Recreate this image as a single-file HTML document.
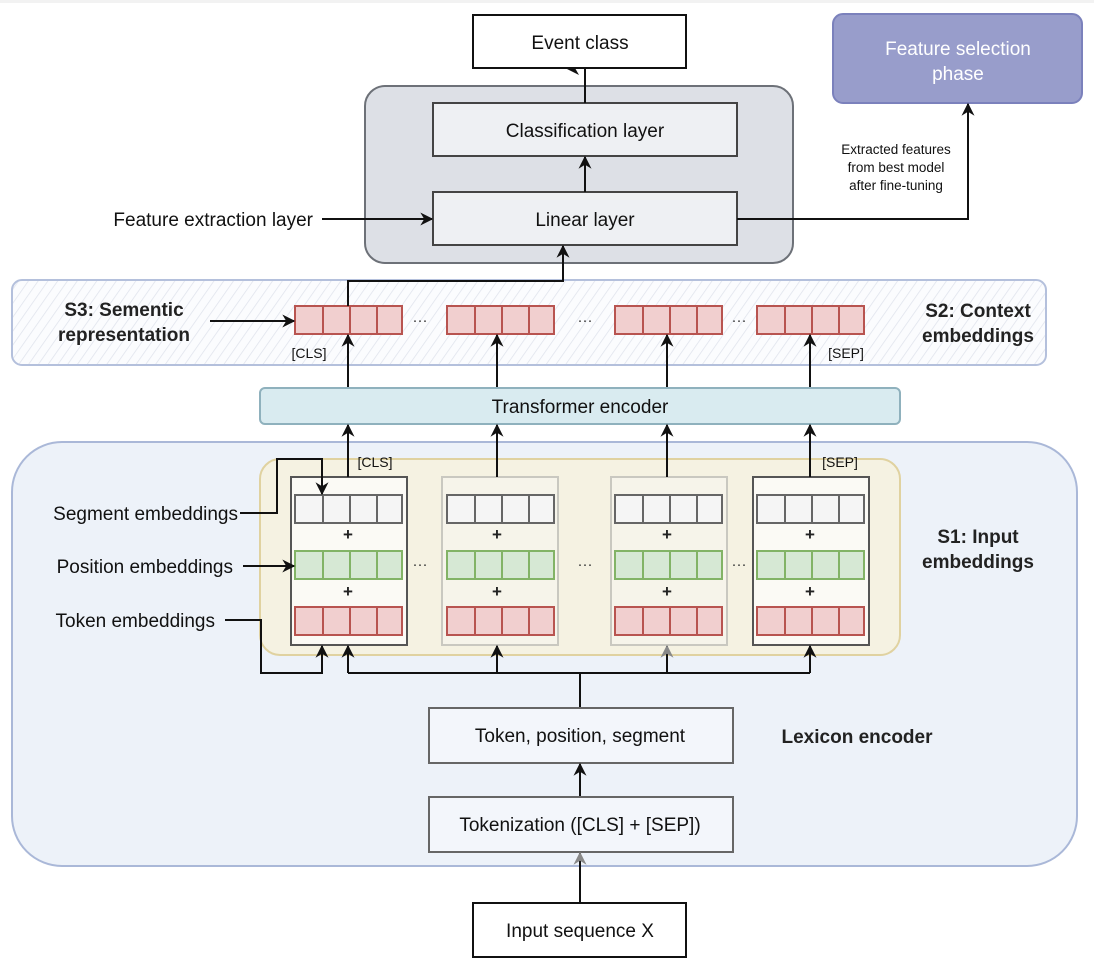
<!DOCTYPE html>
<html><head><meta charset="utf-8"><style>
html,body{margin:0;padding:0;background:#fff}
svg{display:block}
text{font-family:"Liberation Sans",sans-serif}
</style></head><body>
<svg width="1094" height="962" viewBox="0 0 1094 962" xmlns="http://www.w3.org/2000/svg">
<defs>
<marker id="a" viewBox="0 0 10 10" refX="9" refY="5" markerWidth="15" markerHeight="13" orient="auto" markerUnits="userSpaceOnUse"><path d="M0,0 L10,5 L0,10 L3,5 z" fill="#111"/></marker>
<marker id="g" viewBox="0 0 10 10" refX="9" refY="5" markerWidth="15" markerHeight="13" orient="auto" markerUnits="userSpaceOnUse"><path d="M0,0 L10,5 L0,10 L3,5 z" fill="#888"/></marker>
<pattern id="h" width="8" height="8" patternUnits="userSpaceOnUse" patternTransform="rotate(35)"><rect width="8" height="8" fill="#fbfcfe"/><line x1="0" y1="0" x2="0" y2="8" stroke="#dfe3ec" stroke-width="1.5"/></pattern>
<g id="v4r"><rect x="0" y="0" width="107" height="28" fill="#f1cfcf" stroke="#b85450" stroke-width="2"/><line x1="28" y1="0" x2="28" y2="28" stroke="#b85450" stroke-width="2"/><line x1="55" y1="0" x2="55" y2="28" stroke="#b85450" stroke-width="2"/><line x1="82" y1="0" x2="82" y2="28" stroke="#b85450" stroke-width="2"/></g>
<g id="v4g"><rect x="0" y="0" width="107" height="28" fill="#d6e8d4" stroke="#82b366" stroke-width="2"/><line x1="28" y1="0" x2="28" y2="28" stroke="#82b366" stroke-width="2"/><line x1="55" y1="0" x2="55" y2="28" stroke="#82b366" stroke-width="2"/><line x1="82" y1="0" x2="82" y2="28" stroke="#82b366" stroke-width="2"/></g>
<g id="v4w"><rect x="0" y="0" width="107" height="28" fill="#f5f5f5" stroke="#666" stroke-width="2"/><line x1="28" y1="0" x2="28" y2="28" stroke="#666" stroke-width="2"/><line x1="55" y1="0" x2="55" y2="28" stroke="#666" stroke-width="2"/><line x1="82" y1="0" x2="82" y2="28" stroke="#666" stroke-width="2"/></g>
</defs>
<rect x="0" y="0" width="1094" height="3" fill="#f2f2f2"/>

<rect x="473" y="15" width="213" height="53" fill="#fff" stroke="#111" stroke-width="2"/>
<text x="580" y="49" font-size="19" text-anchor="middle" fill="#111">Event class</text>
<rect x="833" y="14" width="249" height="89" rx="10" fill="#989dcb" stroke="#7b81bc" stroke-width="2"/>
<text x="958" y="55" font-size="19" text-anchor="middle" fill="#fff">Feature selection</text>
<text x="958" y="80" font-size="19" text-anchor="middle" fill="#fff">phase</text>

<rect x="365" y="86" width="428" height="177" rx="20" fill="#dde0e6" stroke="#6d7178" stroke-width="2"/>
<rect x="433" y="103" width="304" height="53" fill="#eef0f3" stroke="#444" stroke-width="2"/>
<text x="585" y="137" font-size="19" text-anchor="middle" fill="#111">Classification layer</text>
<rect x="433" y="192" width="304" height="53" fill="#eef0f3" stroke="#444" stroke-width="2"/>
<text x="585" y="226" font-size="19" text-anchor="middle" fill="#111">Linear layer</text>
<line x1="585" y1="103" x2="585" y2="69" stroke="#111" stroke-width="2"/>
<path d="M565,68 L579,75 L575,68 z" fill="#111"/>
<line x1="585" y1="192" x2="585" y2="157" stroke="#111" stroke-width="2" marker-end="url(#a)"/>
<text x="313" y="226" font-size="19" text-anchor="end" fill="#111">Feature extraction layer</text>
<line x1="322" y1="219" x2="432" y2="219" stroke="#111" stroke-width="2" marker-end="url(#a)"/>
<polyline points="737,219 968,219 968,104" fill="none" stroke="#111" stroke-width="2" marker-end="url(#a)"/>
<text x="896" y="154" font-size="13.5" text-anchor="middle" fill="#111">Extracted features</text>
<text x="896" y="172" font-size="13.5" text-anchor="middle" fill="#111">from best model</text>
<text x="896" y="190" font-size="13.5" text-anchor="middle" fill="#111">after fine-tuning</text>

<rect x="12" y="280" width="1034" height="85" rx="10" fill="url(#h)" stroke="#b4c0dc" stroke-width="2"/>
<use href="#v4r" x="295" y="306"/><use href="#v4r" x="447" y="306"/><use href="#v4r" x="615" y="306"/><use href="#v4r" x="757" y="306"/>
<text x="420" y="325" font-size="15" text-anchor="middle" fill="#333">···</text>
<text x="585" y="325" font-size="15" text-anchor="middle" fill="#333">···</text>
<text x="739" y="325" font-size="15" text-anchor="middle" fill="#333">···</text>
<text x="309" y="358" font-size="14" text-anchor="middle" fill="#111">[CLS]</text>
<text x="846" y="358" font-size="14" text-anchor="middle" fill="#111">[SEP]</text>
<text x="124" y="316" font-size="19" font-weight="bold" text-anchor="middle" fill="#222">S3: Sementic</text>
<text x="124" y="341" font-size="19" font-weight="bold" text-anchor="middle" fill="#222">representation</text>
<line x1="210" y1="321" x2="294" y2="321" stroke="#111" stroke-width="2" marker-end="url(#a)"/>
<text x="978" y="317" font-size="19" font-weight="bold" text-anchor="middle" fill="#222">S2: Context</text>
<text x="978" y="342" font-size="19" font-weight="bold" text-anchor="middle" fill="#222">embeddings</text>
<polyline points="348,306 348,281 563,281 563,246" fill="none" stroke="#111" stroke-width="2" marker-end="url(#a)"/>

<line x1="348" y1="388" x2="348" y2="335" stroke="#111" stroke-width="2" marker-end="url(#a)"/>
<line x1="497" y1="388" x2="497" y2="335" stroke="#111" stroke-width="2" marker-end="url(#a)"/>
<line x1="667" y1="388" x2="667" y2="335" stroke="#111" stroke-width="2" marker-end="url(#a)"/>
<line x1="810" y1="388" x2="810" y2="335" stroke="#111" stroke-width="2" marker-end="url(#a)"/>
<rect x="260" y="388" width="640" height="36" rx="5" fill="#d9ebf0" stroke="#8fb1bd" stroke-width="2"/>
<text x="580" y="413" font-size="19" text-anchor="middle" fill="#111">Transformer encoder</text>

<rect x="12" y="442" width="1065" height="424" rx="50" fill="#edf2f9" stroke="#aab8d8" stroke-width="2"/>
<rect x="260" y="459" width="640" height="196" rx="20" fill="#f5f2e2" stroke="#e0d2a0" stroke-width="2"/>
<rect x="291" y="477" width="116" height="168" fill="#fbfaf5" stroke="#555" stroke-width="2"/>
<rect x="442" y="477" width="116" height="168" fill="#f6f4ea" stroke="#c9c8c0" stroke-width="2"/>
<rect x="611" y="477" width="116" height="168" fill="#f6f4ea" stroke="#c9c8c0" stroke-width="2"/>
<rect x="753" y="477" width="116" height="168" fill="#fbfaf5" stroke="#555" stroke-width="2"/>
<use href="#v4w" x="295" y="495"/><use href="#v4w" x="447" y="495"/><use href="#v4w" x="615" y="495"/><use href="#v4w" x="757" y="495"/>
<use href="#v4g" x="295" y="551"/><use href="#v4g" x="447" y="551"/><use href="#v4g" x="615" y="551"/><use href="#v4g" x="757" y="551"/>
<use href="#v4r" x="295" y="607"/><use href="#v4r" x="447" y="607"/><use href="#v4r" x="615" y="607"/><use href="#v4r" x="757" y="607"/>
<g font-size="17" font-weight="bold" text-anchor="middle" fill="#222">
<text x="348" y="540">+</text><text x="497" y="540">+</text><text x="667" y="540">+</text><text x="810" y="540">+</text>
<text x="348" y="597">+</text><text x="497" y="597">+</text><text x="667" y="597">+</text><text x="810" y="597">+</text>
</g>
<text x="420" y="569" font-size="15" text-anchor="middle" fill="#333">···</text>
<text x="585" y="569" font-size="15" text-anchor="middle" fill="#333">···</text>
<text x="739" y="569" font-size="15" text-anchor="middle" fill="#333">···</text>
<text x="375" y="467" font-size="14" text-anchor="middle" fill="#111">[CLS]</text>
<text x="840" y="467" font-size="14" text-anchor="middle" fill="#111">[SEP]</text>
<line x1="348" y1="477" x2="348" y2="425" stroke="#111" stroke-width="2" marker-end="url(#a)"/>
<line x1="497" y1="477" x2="497" y2="425" stroke="#111" stroke-width="2" marker-end="url(#a)"/>
<line x1="667" y1="477" x2="667" y2="425" stroke="#111" stroke-width="2" marker-end="url(#a)"/>
<line x1="810" y1="477" x2="810" y2="425" stroke="#111" stroke-width="2" marker-end="url(#a)"/>

<text x="238" y="520" font-size="19" text-anchor="end" fill="#111">Segment embeddings</text>
<polyline points="240,513 277,513 277,459 322,459 322,494" fill="none" stroke="#111" stroke-width="2" marker-end="url(#a)"/>
<text x="233" y="573" font-size="19" text-anchor="end" fill="#111">Position embeddings</text>
<line x1="243" y1="566" x2="294" y2="566" stroke="#111" stroke-width="2" marker-end="url(#a)"/>
<text x="215" y="627" font-size="19" text-anchor="end" fill="#111">Token embeddings</text>
<polyline points="225,620 261,620 261,673 322,673 322,646" fill="none" stroke="#111" stroke-width="2" marker-end="url(#a)"/>
<polyline points="348,673 810,673" fill="none" stroke="#111" stroke-width="2"/>
<line x1="348" y1="673" x2="348" y2="646" stroke="#111" stroke-width="2" marker-end="url(#a)"/>
<line x1="497" y1="673" x2="497" y2="646" stroke="#111" stroke-width="2" marker-end="url(#a)"/>
<line x1="667" y1="673" x2="667" y2="646" stroke="#111" stroke-width="2" marker-end="url(#g)"/>
<line x1="810" y1="673" x2="810" y2="646" stroke="#111" stroke-width="2" marker-end="url(#a)"/>
<line x1="580" y1="708" x2="580" y2="673" stroke="#111" stroke-width="2"/>

<text x="978" y="543" font-size="19" font-weight="bold" text-anchor="middle" fill="#222">S1: Input</text>
<text x="978" y="568" font-size="19" font-weight="bold" text-anchor="middle" fill="#222">embeddings</text>

<rect x="429" y="708" width="304" height="55" fill="#f3f6fb" stroke="#666" stroke-width="2"/>
<text x="580" y="742" font-size="19" text-anchor="middle" fill="#111">Token, position, segment</text>
<text x="857" y="743" font-size="19" font-weight="bold" text-anchor="middle" fill="#222">Lexicon encoder</text>
<line x1="580" y1="797" x2="580" y2="764" stroke="#111" stroke-width="2" marker-end="url(#a)"/>
<rect x="429" y="797" width="304" height="55" fill="#f3f6fb" stroke="#666" stroke-width="2"/>
<text x="580" y="831" font-size="19" text-anchor="middle" fill="#111">Tokenization ([CLS] + [SEP])</text>
<line x1="580" y1="903" x2="580" y2="853" stroke="#111" stroke-width="2" marker-end="url(#g)"/>
<rect x="473" y="903" width="213" height="54" fill="#fff" stroke="#111" stroke-width="2"/>
<text x="580" y="937" font-size="19" text-anchor="middle" fill="#111">Input sequence X</text>
</svg>
</body></html>
